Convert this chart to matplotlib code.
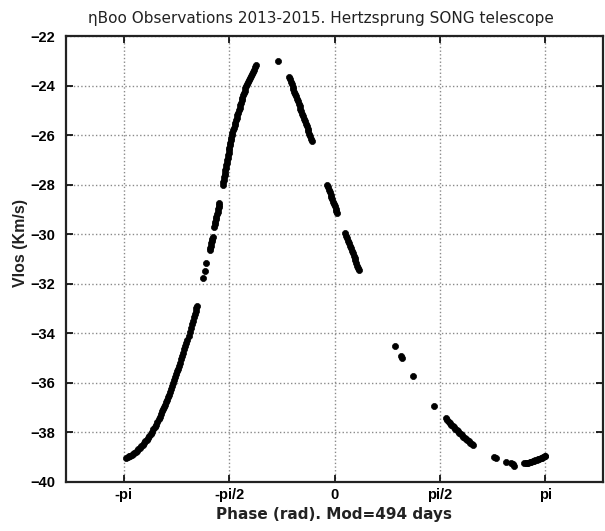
import numpy as np
import matplotlib
matplotlib.use("Agg")
import matplotlib.pyplot as plt

# ---- data (phase in rad, line-of-sight velocity in km/s) ----
phase_rise = [-3.10, -3.08, -3.06, -3.04, -3.02, -3.00, -2.98, -2.96, -2.94, -2.92,
              -2.90, -2.88, -2.86, -2.84, -2.82, -2.80, -2.78, -2.76, -2.74, -2.72,
              -2.70, -2.68, -2.66, -2.64, -2.62, -2.60, -2.58, -2.565, -2.55, -2.535,
              -2.52, -2.505, -2.49, -2.475, -2.46, -2.445, -2.43, -2.415, -2.40, -2.385,
              -2.37, -2.355, -2.34, -2.325, -2.31, -2.295, -2.28, -2.265, -2.25, -2.235,
              -2.22, -2.205, -2.19, -2.175, -2.16, -2.145, -2.13, -2.115, -2.10, -2.085,
              -2.07, -2.06, -2.05]
vlos_rise = [-39.05, -39.01, -38.97, -38.94, -38.90, -38.86, -38.82, -38.78, -38.73, -38.68,
             -38.62, -38.56, -38.50, -38.43, -38.36, -38.29, -38.22, -38.14, -38.05, -37.97,
             -37.88, -37.78, -37.68, -37.58, -37.47, -37.36, -37.24, -37.15, -37.06, -36.97,
             -36.88, -36.78, -36.68, -36.58, -36.47, -36.36, -36.24, -36.12, -36.00, -35.89,
             -35.77, -35.65, -35.53, -35.42, -35.30, -35.18, -35.05, -34.92, -34.78, -34.65,
             -34.52, -34.39, -34.25, -34.10, -33.95, -33.79, -33.62, -33.49, -33.35, -33.22,
             -33.08, -32.99, -32.90]

phase_mid = [-1.960, -1.936, -1.911,
             -1.862, -1.853, -1.845, -1.836, -1.828, -1.820, -1.812,
             -1.788, -1.780, -1.773, -1.765, -1.758, -1.750, -1.743, -1.735, -1.728, -1.721, -1.715]
vlos_mid = [-31.78, -31.50, -31.17,
            -30.64, -30.55, -30.46, -30.37, -30.28, -30.20, -30.12,
            -29.70, -29.60, -29.50, -29.40, -29.30, -29.20, -29.10, -29.00, -28.90, -28.81, -28.72]

phase_top = [-1.664, -1.657, -1.651, -1.644, -1.638, -1.631, -1.624, -1.618, -1.611, -1.605,
             -1.598, -1.591, -1.585, -1.578, -1.571, -1.565, -1.558, -1.551, -1.544, -1.538,
             -1.531, -1.520, -1.510, -1.499, -1.489, -1.478, -1.467, -1.457, -1.446, -1.435,
             -1.425, -1.414, -1.403, -1.393, -1.382, -1.372, -1.361, -1.350, -1.340, -1.329,
             -1.319, -1.305, -1.290, -1.276, -1.262, -1.248, -1.233, -1.219, -1.205, -1.188,
             -1.170, -0.847]
vlos_top = [-28.01, -27.91, -27.81, -27.71, -27.61, -27.51, -27.41, -27.31, -27.21, -27.11,
            -27.01, -26.91, -26.81, -26.71, -26.61, -26.51, -26.41, -26.30, -26.20, -26.10,
            -26.00, -25.90, -25.80, -25.70, -25.60, -25.50, -25.40, -25.30, -25.20, -25.10,
            -25.00, -24.90, -24.80, -24.70, -24.60, -24.50, -24.40, -24.30, -24.20, -24.10,
            -24.00, -23.92, -23.84, -23.76, -23.68, -23.60, -23.52, -23.44, -23.36, -23.27,
            -23.17, -23.00]

phase_fall = [-0.677, -0.664, -0.651, -0.638, -0.625, -0.612, -0.599, -0.586, -0.572, -0.559,
              -0.546, -0.533, -0.520, -0.507, -0.494, -0.481, -0.467, -0.454, -0.441, -0.428,
              -0.415, -0.402, -0.389, -0.376, -0.362, -0.349, -0.336,
              -0.108, -0.096, -0.083, -0.071, -0.058, -0.046, -0.034, -0.021, -0.009, 0.003,
              0.015, 0.028, 0.040,
              0.163, 0.177, 0.190, 0.204, 0.217, 0.231, 0.244, 0.258, 0.271, 0.285,
              0.298, 0.312, 0.325, 0.339, 0.352, 0.362]
vlos_fall = [-23.64, -23.74, -23.84, -23.94, -24.04, -24.14, -24.24, -24.34, -24.44, -24.54,
             -24.64, -24.74, -24.84, -24.94, -25.04, -25.14, -25.24, -25.34, -25.44, -25.54,
             -25.64, -25.74, -25.84, -25.94, -26.04, -26.14, -26.24,
             -28.01, -28.10, -28.20, -28.30, -28.40, -28.50, -28.59, -28.69, -28.78, -28.88,
             -28.97, -29.07, -29.16,
             -29.96, -30.06, -30.16, -30.26, -30.36, -30.46, -30.56, -30.66, -30.76, -30.86,
             -30.96, -31.06, -31.16, -31.27, -31.37, -31.45]

phase_low = [0.904, 0.995, 1.010, 1.175, 1.481,
             1.659, 1.680, 1.700, 1.720, 1.740, 1.760, 1.780, 1.800, 1.820, 1.840,
             1.860, 1.880, 1.900, 1.920, 1.940, 1.960, 1.980, 2.000, 2.020, 2.042, 2.064,
             2.370, 2.400, 2.548, 2.632, 2.655, 2.681,
             2.830, 2.850, 2.870, 2.890, 2.910, 2.930, 2.950, 2.970, 2.990, 3.010,
             3.030, 3.050, 3.070, 3.090, 3.110, 3.130, 3.140]
vlos_low = [-34.51, -34.93, -35.01, -35.72, -36.93,
            -37.43, -37.50, -37.56, -37.62, -37.68, -37.74, -37.79, -37.85, -37.90, -37.96,
            -38.01, -38.07, -38.12, -38.17, -38.22, -38.27, -38.31, -38.36, -38.41, -38.46, -38.51,
            -38.98, -39.05, -39.18, -39.22, -39.28, -39.34,
            -39.25, -39.25, -39.24, -39.23, -39.21, -39.19, -39.17, -39.15, -39.13, -39.11,
            -39.09, -39.07, -39.04, -39.02, -38.99, -38.96, -38.94]

xtick_vals = [-np.pi, -np.pi / 2, 0, np.pi / 2, np.pi]
xtick_labels = ["-pi", "-pi/2", "0", "pi/2", "pi"]
ytick_vals = list(range(-40, -21, 2))

phase = np.concatenate([phase_rise, phase_mid, phase_top, phase_fall, phase_low])
vlos = np.concatenate([vlos_rise, vlos_mid, vlos_top, vlos_fall, vlos_low])

# ---- figure ----
W, H = 605, 531
fig = plt.figure(figsize=(W / 100, H / 100), dpi=100)
ax = fig.add_axes([66 / W, 1 - 482 / H, (603 - 66) / W, (482 - 36) / H])

ax.plot(phase, vlos, linestyle="none", marker="o", markersize=4.4,
        markerfacecolor="black", markeredgecolor="black", markeredgewidth=0.5)

ax.set_xlim(-4, 4)
ax.set_ylim(-40, -22)
ax.set_xticks(xtick_vals)
ax.set_xticklabels(xtick_labels)
ax.set_yticks(ytick_vals)

ax.grid(True, linestyle=":", color="#8a8a8a", linewidth=1.0)
ax.tick_params(direction="in", length=5, width=1.2, top=True, right=True,
               labelsize=10.5, colors="black")
ax.tick_params(axis="x", pad=4)
ax.tick_params(axis="y", pad=8)
for lab in ax.get_xticklabels() + ax.get_yticklabels():
    lab.set_fontfamily("Liberation Sans")
    lab.set_fontweight("bold")
for s in ax.spines.values():
    s.set_linewidth(1.6)
    s.set_color("#222222")

fig.text(321 / W, 1 - 18 / H, "\u03b7Boo Observations 2013-2015. Hertzsprung SONG telescope",
         ha="center", va="center", fontsize=11, family="DejaVu Sans", color="#222222")
fig.text(334 / W, 1 - 514 / H, "Phase (rad). Mod=494 days", ha="center", va="center",
         fontsize=11, family="DejaVu Sans", fontweight="semibold", color="#222222")
fig.text(21 / W, 1 - 243 / H, "Vlos (Km/s)", ha="center", va="center", rotation=90,
         fontsize=11.5, family="Liberation Sans", fontweight="bold", color="#222222")

fig.savefig("out.png", dpi=100)
